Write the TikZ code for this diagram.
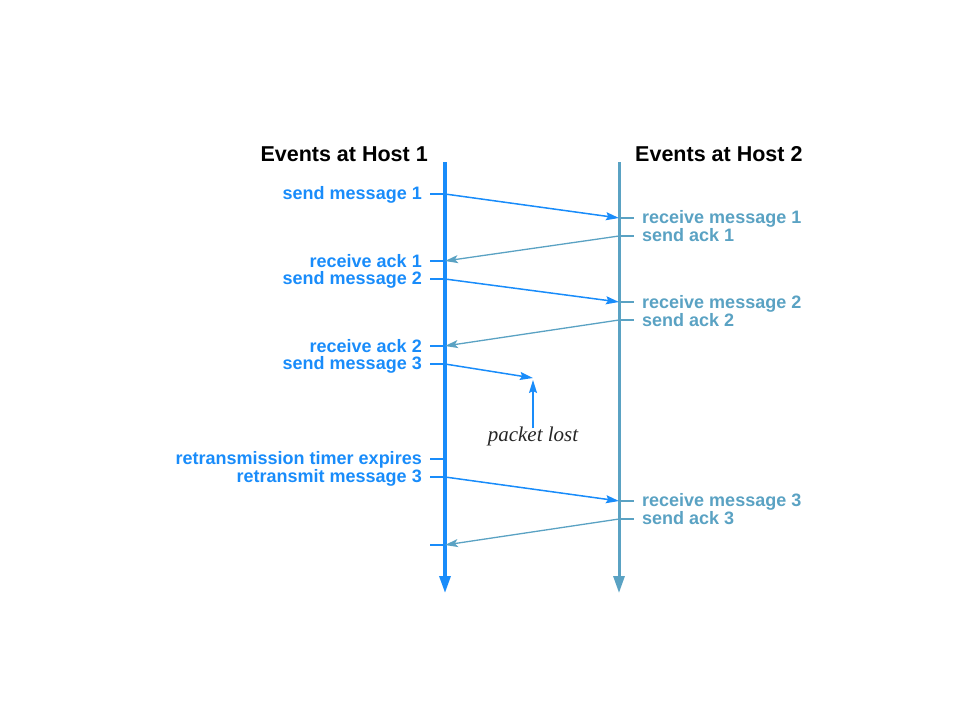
\documentclass[tikz,border=0pt]{standalone}
\usepackage{fontspec}
\setmainfont{Liberation Serif}
\setsansfont{Liberation Sans}
\usetikzlibrary{arrows.meta}
\definecolor{hostA}{RGB}{25,140,250}
\definecolor{hostB}{RGB}{90,162,195}
\begin{document}
\begin{tikzpicture}[x=1pt,y=-1pt,
  titlestyle/.style={font=\sffamily\bfseries\fontsize{21.5}{22}\selectfont, inner sep=0pt, text=black},
  labA/.style={anchor=mid east, text=hostA, font=\sffamily\bfseries\fontsize{18}{18}\selectfont, inner sep=0pt},
  labB/.style={anchor=mid west, text=hostB, font=\sffamily\bfseries\fontsize{18}{18}\selectfont, inner sep=0pt},
  lineA/.style={draw=hostA, line width=3.2pt, -{Triangle[length=17pt,width=11pt]}},
  lineB/.style={draw=hostB, line width=3pt, -{Triangle[length=17pt,width=11pt]}},
  tickA/.style={draw=hostA, line width=2pt},
  tickB/.style={draw=hostB, line width=2pt},
  msg/.style={draw=hostA, line width=1.5pt, -{Stealth[length=13pt,width=8pt,inset=2pt]}},
  ack/.style={draw=hostB, line width=1.3pt, -{Stealth[length=13pt,width=8pt,inset=3pt]}},
  lostarrow/.style={draw=hostA, line width=1.5pt, -{Stealth[length=13pt,width=8pt,inset=2pt]}},
  note/.style={font=\itshape\fontsize{21}{21}\selectfont, text=black!85, inner sep=0pt}
]
\useasboundingbox (0,0) rectangle (960,720);

% titles
\node[titlestyle, anchor=mid east] (t1) at (428,159) {Events at Host 1};
\node[titlestyle, anchor=mid west] (t2) at (635,159) {Events at Host 2};

% timelines
\coordinate (h1top) at (445,162);
\coordinate (h1bot) at (445,593);
\coordinate (h2top) at (619,162);
\coordinate (h2bot) at (619,593);
\draw[lineA] (h1top) -- (h1bot);
\draw[lineB] (h2top) -- (h2bot);

% host 1 events
\node[labA] (ls1) at (422,197) {send message 1};
\coordinate (s1t) at (430,194); \coordinate (s1) at (445,194);
\node[labA] (lk1) at (422,265) {receive ack 1};
\coordinate (k1t) at (430,261); \coordinate (k1) at (445,261);
\node[labA] (ls2) at (422,282) {send message 2};
\coordinate (s2t) at (430,279); \coordinate (s2) at (445,279);
\node[labA] (lk2) at (422,350) {receive ack 2};
\coordinate (k2t) at (430,346); \coordinate (k2) at (445,346);
\node[labA] (ls3) at (422,367) {send message 3};
\coordinate (s3t) at (430,364); \coordinate (s3) at (445,364);
\node[labA] (lto) at (422,462) {retransmission timer expires};
\coordinate (tot) at (430,459); \coordinate (to) at (445,459);
\node[labA] (lrs) at (422,480) {retransmit message 3};
\coordinate (rst) at (430,477); \coordinate (rs) at (445,477);
\coordinate (k3t) at (430,545); \coordinate (k3) at (445,545);

\foreach \p in {s1,k1,s2,k2,s3,to,rs,k3} \draw[tickA] (\p t) -- (\p);

% host 2 events
\node[labB] (lr1) at (642,221) {receive message 1};
\coordinate (r1) at (619,218); \coordinate (r1t) at (634,218);
\node[labB] (la1) at (642,239) {send ack 1};
\coordinate (a1) at (619,236); \coordinate (a1t) at (634,236);
\node[labB] (lr2) at (642,306) {receive message 2};
\coordinate (r2) at (619,302); \coordinate (r2t) at (634,302);
\node[labB] (la2) at (642,324) {send ack 2};
\coordinate (a2) at (619,320); \coordinate (a2t) at (634,320);
\node[labB] (lr3) at (642,504) {receive message 3};
\coordinate (r3) at (619,501); \coordinate (r3t) at (634,501);
\node[labB] (la3) at (642,522) {send ack 3};
\coordinate (a3) at (619,519); \coordinate (a3t) at (634,519);

\foreach \p in {r1,a1,r2,a2,r3,a3} \draw[tickB] (\p) -- (\p t);

% messages
\draw[msg] (s1) -- (r1);
\draw[ack] (a1) -- (k1);
\draw[msg] (s2) -- (r2);
\draw[ack] (a2) -- (k2);
\coordinate (lost) at (533,378);
\draw[msg] (s3) -- (lost);
\draw[msg] (rs) -- (r3);
\draw[ack] (a3) -- (k3);

% packet lost
\node[note] (pl) at (533,436) {packet lost};
\coordinate (plup) at (533,380);
\draw[lostarrow] ([yshift=-2pt]pl.north) -- (plup);
\end{tikzpicture}
\end{document}
